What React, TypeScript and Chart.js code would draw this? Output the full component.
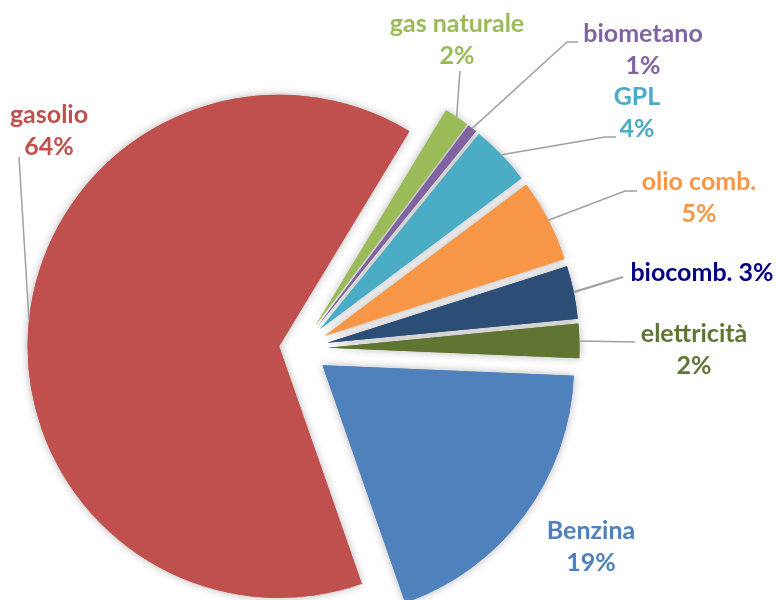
import React, { useEffect, useRef } from 'react';
import { Chart, registerables } from 'chart.js';

Chart.register(...registerables);

// ---- data ----
const CATEGORIES = ['gasolio', 'gas naturale', 'biometano', 'GPL', 'olio comb.', 'biocomb.', 'elettricità', 'Benzina'];
const VALUES = [64.0, 1.6, 0.6, 3.9, 5.3, 3.4, 2.2, 19.0];

// ---- styles ----
const SLICE_COLORS = ['#C0504D', '#9BBB59', '#8064A2', '#4BACC6', '#F79646', '#2C4D75', '#5F7531', '#4F81BD'];
const LABEL_COLORS = ['#C0504D', '#9BBB59', '#8064A2', '#4BACC6', '#F79646', '#000080', '#5F7531', '#4F81BD'];
const EXPLODE = [21, 28, 28, 28, 28, 28, 28, 28];

// label layout: center x, baseline of first line, one-line flag, leader points after slice edge
const LABEL_LAYOUT: { x: number; y: number; oneLine: boolean; leader: number[][] }[] = [
  { x: 49, y: 123, oneLine: false, leader: [[19, 157]] },
  { x: 457, y: 32, oneLine: false, leader: [[460, 71]] },
  { x: 643, y: 42, oneLine: false, leader: [[567, 42], [578, 42]] },
  { x: 637, y: 105, oneLine: false, leader: [[605, 137], [616, 137]] },
  { x: 699, y: 190, oneLine: false, leader: [[625, 191], [637, 191]] },
  { x: 702, y: 281, oneLine: true, leader: [[623, 277]] },
  { x: 694, y: 342, oneLine: false, leader: [[635, 342]] },
  { x: 591, y: 539, oneLine: false, leader: [] },
];

const FONT = 'bold 25px Lato';
const LINE_H = 32;

const explodePlugin = {
  id: 'explodePie',
  beforeDatasetDraw(chart: any, args: any) {
    const ctx = chart.ctx;
    const arcs = args.meta.data;
    // pass 0: shadows, pass 1: clean slices
    for (let pass = 0; pass < 2; pass++) {
      arcs.forEach((arc: any, i: number) => {
        const mid = (arc.startAngle + arc.endAngle) / 2;
        const d = EXPLODE[i] || 0;
        ctx.save();
        if (pass === 0) {
          ctx.shadowColor = 'rgba(0,0,0,0.30)';
          ctx.shadowBlur = 9;
        }
        ctx.translate(Math.cos(mid) * d, Math.sin(mid) * d);
        arc.draw(ctx);
        ctx.restore();
      });
    }
    return false;
  },
  afterDatasetsDraw(chart: any) {
    const ctx = chart.ctx;
    const arcs = chart.getDatasetMeta(0).data;
    const total = VALUES.reduce((a, b) => a + b, 0);
    ctx.save();
    arcs.forEach((arc: any, i: number) => {
      const lay = LABEL_LAYOUT[i];
      const mid = (arc.startAngle + arc.endAngle) / 2;
      const r = arc.outerRadius + (EXPLODE[i] || 0);
      const sx = arc.x + Math.cos(mid) * r;
      const sy = arc.y + Math.sin(mid) * r;
      if (lay.leader.length) {
        ctx.beginPath();
        ctx.moveTo(sx, sy);
        lay.leader.forEach((p) => ctx.lineTo(p[0], p[1]));
        ctx.strokeStyle = '#A0A0A0';
        ctx.lineWidth = i === 5 ? 2.2 : 1.5;
        ctx.stroke();
      }
      const pct = Math.round((VALUES[i] / total) * 100) + '%';
      ctx.font = FONT;
      ctx.fillStyle = LABEL_COLORS[i];
      ctx.textAlign = 'center';
      ctx.textBaseline = 'alphabetic';
      if (lay.oneLine) {
        ctx.fillText(CATEGORIES[i] + ' ' + pct, lay.x, lay.y);
      } else {
        ctx.fillText(CATEGORIES[i], lay.x, lay.y);
        ctx.fillText(pct, lay.x, lay.y + LINE_H);
      }
    });
    ctx.restore();
  },
};

export default function App() {
  const ref = useRef<HTMLCanvasElement | null>(null);
  useEffect(() => {
    if (!ref.current) return;
    const chart = new Chart(ref.current, {
      type: 'pie',
      data: {
        labels: CATEGORIES,
        datasets: [
          {
            data: VALUES,
            backgroundColor: SLICE_COLORS,
            borderWidth: 0,
          },
        ],
      },
      options: {
        animation: false,
        responsive: false,
        events: [],
        rotation: 160.8,
        layout: { padding: { left: 48, right: 224, top: 97, bottom: -1 } },
        plugins: {
          legend: { display: false },
          tooltip: { enabled: false },
          title: { display: false },
        },
      },
      plugins: [explodePlugin],
    });
    return () => chart.destroy();
  }, []);
  return (
    <div style={{ position: 'absolute', left: 0, top: 0, width: 776, height: 600, background: '#fff' }}>
      <canvas ref={ref} width={776} height={600} />
    </div>
  );
}
